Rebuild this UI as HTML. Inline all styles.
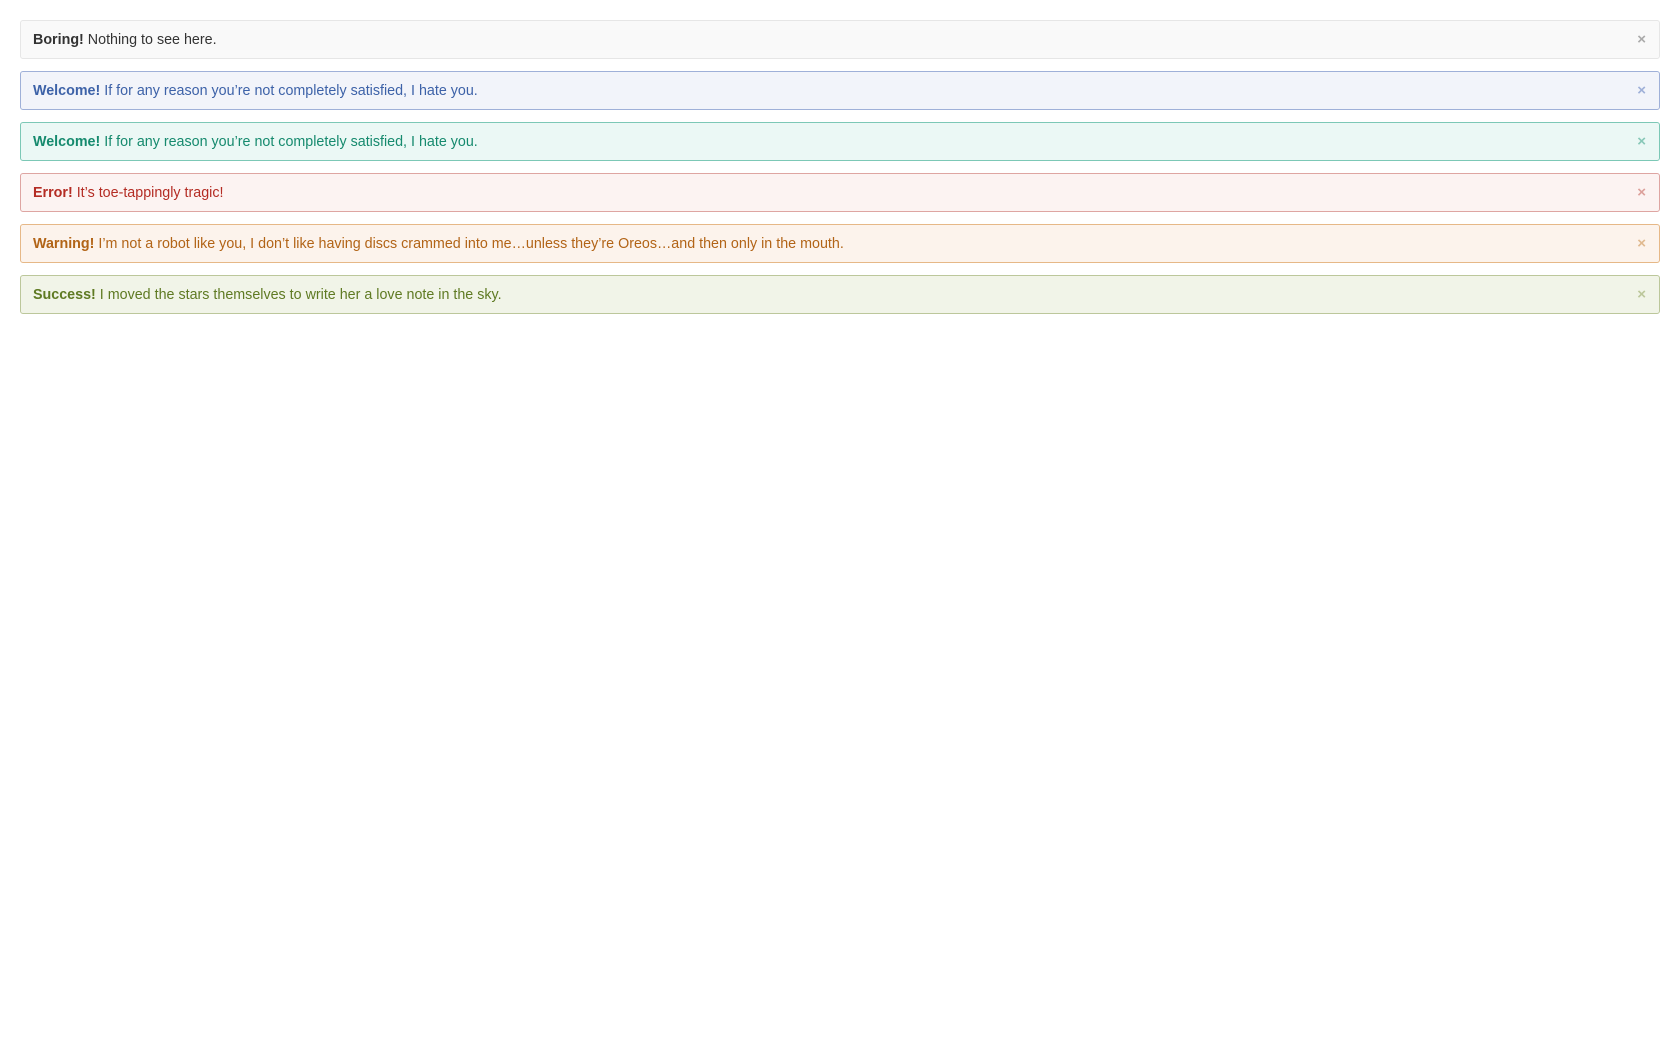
<!DOCTYPE html>
<html><head><style>
body{margin:0;background:#fff;font-family:"Liberation Sans",Helvetica,Arial,sans-serif;font-size:14.3px;}
.a{position:absolute;left:20px;width:1638px;height:37px;border:1px solid;border-radius:3px;box-sizing:content-box;}
.a span.t{position:absolute;left:12px;top:11px;white-space:nowrap;}
.a b{font-weight:bold;}
.x{position:absolute;right:13px;top:10px;font-size:15px;font-weight:bold;}
</style></head><body>
<div class="a" style="top:20px;background:#f9f9f9;border-color:#e6e6e6;color:#333"><span class="t"><b>Boring!</b> Nothing to see here.</span><span class="x" style="color:#aaa">×</span></div>
<div class="a" style="top:71px;background:#f2f4fa;border-color:#9fb0d8;color:#3d62a8"><span class="t"><b>Welcome!</b> If for any reason you’re not completely satisfied, I hate you.</span><span class="x" style="color:#9fb0d8">×</span></div>
<div class="a" style="top:122px;background:#ebf8f5;border-color:#7cc8b6;color:#168a6e"><span class="t"><b>Welcome!</b> If for any reason you’re not completely satisfied, I hate you.</span><span class="x" style="color:#88c8b8">×</span></div>
<div class="a" style="top:173px;background:#fcf3f2;border-color:#dea5a2;color:#b42c24"><span class="t"><b>Error!</b> It’s toe-tappingly tragic!</span><span class="x" style="color:#dca09b">×</span></div>
<div class="a" style="top:224px;background:#fcf3ec;border-color:#e6b887;color:#b26417"><span class="t"><b>Warning!</b> I’m not a robot like you, I don’t like having discs crammed into me…unless they’re Oreos…and then only in the mouth.</span><span class="x" style="color:#e0b98f">×</span></div>
<div class="a" style="top:275px;background:#f1f4e8;border-color:#bcc79b;color:#5f7a23"><span class="t"><b>Success!</b> I moved the stars themselves to write her a love note in the sky.</span><span class="x" style="color:#bcc79b">×</span></div>
</body></html>
